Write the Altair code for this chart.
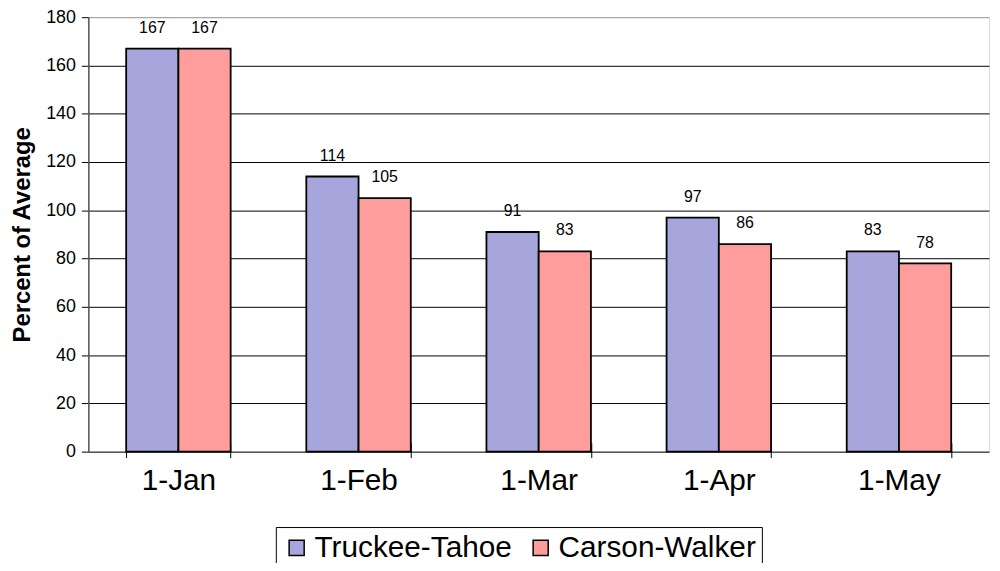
import altair as alt
import pandas as pd

dates = ["1-Jan", "1-Feb", "1-Mar", "1-Apr", "1-May"]
truckee = [167, 114, 91, 97, 83]
carson = [167, 105, 83, 86, 78]
series = ["Truckee-Tahoe", "Carson-Walker"]
colors = ["#a6a6dc", "#ff9c9c"]
y_ticks = list(range(0, 181, 20))

rows = []
for d, t, c in zip(dates, truckee, carson):
    rows.append({"date": d, "series": series[0], "value": t})
    rows.append({"date": d, "series": series[1], "value": c})
df = pd.DataFrame(rows)

FONT = "Liberation Sans"

x_enc = alt.X(
    "date:N", sort=dates, title=None,
    scale=alt.Scale(paddingInner=0.42, paddingOuter=0.21),
    axis=alt.Axis(labelAngle=0, labelFontSize=30, labelFont=FONT, labelColor="black",
                  labelPadding=8, tickBand="extent", tickSize=15, tickColor="black",
                  tickWidth=1, domain=False, offset=-9),
)
xoff = alt.XOffset("series:N", sort=series, scale=alt.Scale(paddingInner=0, paddingOuter=0))
y_enc = alt.Y(
    "value:Q", title="Percent of Average",
    scale=alt.Scale(domain=[0, 180], nice=False),
    axis=alt.Axis(values=y_ticks, labelFontSize=18, labelFont=FONT, labelColor="black",
                  labelPadding=6, tickSize=7, tickColor="black",
                  domainColor="#555555", domainWidth=1.5,
                  grid=True,
                  gridColor={"condition": {"test": "datum.value == 180", "value": "#999999"}, "value": "black"},
                  gridWidth=1,
                  titleFont=FONT, titleFontSize=24, titleFontWeight="bold",
                  titleColor="black", titlePadding=11),
)
color_enc = alt.Color(
    "series:N", sort=series, scale=alt.Scale(domain=series, range=colors),
    legend=alt.Legend(title=None, orient="none", legendX=189, legendY=514,
                      direction="horizontal", symbolType="square", symbolSize=230,
                      symbolStrokeColor="black", symbolStrokeWidth=1.5, symbolOpacity=1,
                      labelFont=FONT, labelFontSize=30, labelColor="black", labelOffset=3,
                      columnPadding=14, strokeColor="black", padding=6, fillColor="white",
                      labelLimit=400),
)

bars = alt.Chart(df).mark_bar(stroke="black", strokeWidth=1.8, opacity=1).encode(
    x=x_enc, xOffset=xoff, y=y_enc, color=color_enc
)
labels = alt.Chart(df).mark_text(font=FONT, fontSize=16, baseline="bottom", dy=-13, color="black").encode(
    x=alt.X("date:N", sort=dates), xOffset=xoff, y="value:Q", text="value:Q"
)

chart = (
    alt.layer(bars, labels)
    .properties(width=908, height=438, autosize=alt.AutoSizeParams(type="none"),
                padding={"left": 81, "top": 7, "right": 3, "bottom": 110})
    .configure_view(stroke="#888888", strokeWidth=1.5)
    .configure(background="white")
)

chart.save("out.html", embed_options={"renderer": "svg", "actions": False})
